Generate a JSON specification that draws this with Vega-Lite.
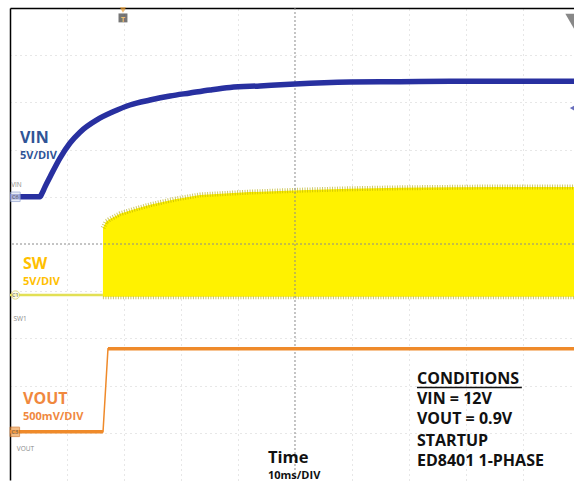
{
  "$schema": "https://vega.github.io/schema/vega-lite/v6.json",
  "width": 564,
  "height": 472,
  "autosize": {"type": "none"},
  "padding": {"left": 10, "top": 8, "right": 0, "bottom": 4},
  "background": "white",
  "config": {"view": {"stroke": null}, "font": "Open Sans"},
  "datasets": {
    "vin": [{"t":0,"d":6.0},{"t":5.26,"d":6.0},{"t":5.6,"d":6.07},{"t":6.14,"d":6.21},{"t":7.02,"d":6.42},{"t":8.77,"d":6.82},{"t":10.53,"d":7.14},{"t":12.28,"d":7.37},{"t":15.26,"d":7.63},{"t":18.07,"d":7.8},{"t":21.05,"d":7.945},{"t":24.56,"d":8.05},{"t":28.07,"d":8.136},{"t":31.58,"d":8.2},{"t":35.09,"d":8.263},{"t":38.6,"d":8.316},{"t":43.86,"d":8.35},{"t":50,"d":8.39},{"t":59.65,"d":8.43},{"t":68.42,"d":8.44},{"t":77.19,"d":8.45},{"t":85.96,"d":8.45},{"t":98.95,"d":8.45}],
    "sw": [{"t":16.3,"d":3.88,"d2":3.88},{"t":16.32,"d":5.34,"d2":3.88},{"t":16.84,"d":5.47,"d2":3.88},{"t":17.54,"d":5.53,"d2":3.88},{"t":19.3,"d":5.64,"d2":3.88},{"t":21.93,"d":5.74,"d2":3.88},{"t":24.56,"d":5.83,"d2":3.88},{"t":28.95,"d":5.95,"d2":3.88},{"t":33.33,"d":6.04,"d2":3.88},{"t":42.11,"d":6.1,"d2":3.88},{"t":50.88,"d":6.14,"d2":3.88},{"t":59.65,"d":6.17,"d2":3.88},{"t":68.42,"d":6.19,"d2":3.88},{"t":77.19,"d":6.2,"d2":3.88},{"t":85.96,"d":6.21,"d2":3.88},{"t":98.95,"d":6.21,"d2":3.88}],
    "swpre": [{"t":0,"d":3.92},{"t":16.3,"d":3.92}],
    "swbot": [{"t":16.3,"d":3.86},{"t":98.95,"d":3.86}],
    "vout": [{"t":0,"d":1.02,"seg":"a"},{"t":16.32,"d":1.02,"seg":"a"},{"t":17.19,"d":2.78,"seg":"b"},{"t":98.95,"d":2.78,"seg":"b"}],
    "labels": [{"ch":"VIN","t":1.75,"d":7.14,"big":"VIN","small":"5V/DIV","d2":6.81},{"ch":"SW","t":2.28,"d":4.47,"big":"SW","small":"5V/DIV","d2":4.13},{"ch":"VOUT","t":2.28,"d":1.61,"big":"VOUT","small":"500mV/DIV","d2":1.27}],
    "cond": [{"t":71.4,"d":2.03,"txt":"CONDITIONS"},{"t":71.4,"d":1.61,"txt":"VIN = 12V"},{"t":71.4,"d":1.19,"txt":"VOUT = 0.9V"},{"t":71.4,"d":0.73,"txt":"STARTUP"},{"t":71.4,"d":0.3,"txt":"ED8401 1-PHASE"}]
  },
  "layer": [
    {
      "data": {"name": "sw"},
      "mark": {"type": "area", "color": "#fff200", "interpolate": "linear"},
      "encoding": {
        "x": {"field": "t", "type": "quantitative", "scale": {"domain": [0, 98.95], "nice": false, "zero": false},
              "axis": {"orient": "top", "values": [10,20,30,40,60,70,80,90], "labels": false, "ticks": false, "title": null, "domainColor": "#000", "domainWidth": 1.5, "gridColor": "#c4c4c4", "gridDash": [1,4], "gridWidth": 1, "gridOpacity": 0.8}},
        "y": {"field": "d", "type": "quantitative", "scale": {"domain": [0, 10], "nice": false, "zero": false},
              "axis": {"orient": "left", "values": [1,2,3,4,6,7,8,9], "labels": false, "ticks": false, "title": null, "domainColor": "#000", "domainWidth": 1.5, "gridColor": "#c4c4c4", "gridDash": [1,4], "gridWidth": 1, "gridOpacity": 0.8}},
        "y2": {"field": "d2"}
      }
    },
    {
      "data": {"name": "sw"},
      "transform": [{"filter": "datum.t > 16.31"}],
      "mark": {"type": "line", "color": "#b3a800", "strokeWidth": 5, "opacity": 0.6, "strokeDash": [1, 1.5]},
      "encoding": {"x": {"field": "t", "type": "quantitative"}, "y": {"field": "d", "type": "quantitative"}}
    },
    {
      "data": {"name": "swbot"},
      "mark": {"type": "line", "color": "#aaa020", "strokeWidth": 3, "opacity": 0.6, "strokeDash": [1, 1.5]},
      "encoding": {"x": {"field": "t", "type": "quantitative"}, "y": {"field": "d", "type": "quantitative"}}
    },
    {
      "data": {"name": "swpre"},
      "mark": {"type": "line", "color": "#e2e055", "strokeWidth": 2.5},
      "encoding": {"x": {"field": "t", "type": "quantitative"}, "y": {"field": "d", "type": "quantitative"}}
    },
    {
      "data": {"values": [{"t": 50}]},
      "mark": {"type": "rule", "color": "#8a8a8a", "strokeDash": [2, 2], "strokeWidth": 1},
      "encoding": {"x": {"field": "t", "type": "quantitative"}}
    },
    {
      "data": {"values": [{"d": 5}]},
      "mark": {"type": "rule", "color": "#8a8a8a", "strokeDash": [2, 2], "strokeWidth": 1},
      "encoding": {"y": {"field": "d", "type": "quantitative"}}
    },
    {
      "data": {"name": "vin"},
      "mark": {"type": "line", "color": "#2830a0", "strokeWidth": 5.5, "interpolate": "monotone"},
      "encoding": {"x": {"field": "t", "type": "quantitative"}, "y": {"field": "d", "type": "quantitative"}}
    },
    {
      "data": {"name": "vout"},
      "mark": {"type": "line", "color": "#ef8a2a", "strokeWidth": 1.5},
      "encoding": {"x": {"field": "t", "type": "quantitative"}, "y": {"field": "d", "type": "quantitative"}}
    },
    {
      "data": {"name": "vout"},
      "mark": {"type": "line", "color": "#ef8a2a", "strokeWidth": 3.5},
      "encoding": {"x": {"field": "t", "type": "quantitative"}, "y": {"field": "d", "type": "quantitative"}, "detail": {"field": "seg"}}
    },
    {
      "data": {"name": "labels"},
      "mark": {"type": "text", "align": "left", "baseline": "alphabetic", "fontSize": 16, "fontWeight": "bold"},
      "encoding": {
        "x": {"field": "t", "type": "quantitative"}, "y": {"field": "d", "type": "quantitative"},
        "text": {"field": "big"},
        "color": {"field": "ch", "type": "nominal", "scale": {"domain": ["VIN","SW","VOUT"], "range": ["#2f5496","#ffc000","#f0883e"]}, "legend": null}
      }
    },
    {
      "data": {"name": "labels"},
      "mark": {"type": "text", "align": "left", "baseline": "alphabetic", "fontSize": 11, "fontWeight": "bold"},
      "encoding": {
        "x": {"field": "t", "type": "quantitative"}, "y": {"field": "d2", "type": "quantitative"},
        "text": {"field": "small"},
        "color": {"field": "ch", "type": "nominal", "legend": null}
      }
    },
    {
      "data": {"name": "cond"},
      "mark": {"type": "text", "align": "left", "baseline": "alphabetic", "fontSize": 16, "fontWeight": "bold", "color": "#111"},
      "encoding": {"x": {"field": "t", "type": "quantitative"}, "y": {"field": "d", "type": "quantitative"}, "text": {"field": "txt"}}
    },
    {
      "data": {"values": [{"t": 71.4, "t2": 89.8, "d": 1.96}]},
      "mark": {"type": "rule", "color": "#111", "strokeWidth": 1.5},
      "encoding": {"x": {"field": "t", "type": "quantitative"}, "x2": {"field": "t2"}, "y": {"field": "d", "type": "quantitative"}}
    },
    {
      "data": {"values": [{"t": 45.26, "d": 0.37, "txt": "Time"}]},
      "mark": {"type": "text", "align": "left", "baseline": "alphabetic", "fontSize": 16.5, "fontWeight": "bold", "color": "#111"},
      "encoding": {"x": {"field": "t", "type": "quantitative"}, "y": {"field": "d", "type": "quantitative"}, "text": {"field": "txt"}}
    },
    {
      "data": {"values": [{"t": 45.26, "d": 0.03, "txt": "10ms/DIV"}]},
      "mark": {"type": "text", "align": "left", "baseline": "alphabetic", "fontSize": 11, "fontWeight": "bold", "color": "#111"},
      "encoding": {"x": {"field": "t", "type": "quantitative"}, "y": {"field": "d", "type": "quantitative"}, "text": {"field": "txt"}}
    },
    {
      "data": {"values": [{"t": 19.82, "d": 9.96}]},
      "mark": {"type": "point", "shape": "triangle-down", "filled": true, "color": "#f0a030", "size": 40},
      "encoding": {"x": {"field": "t", "type": "quantitative"}, "y": {"field": "d", "type": "quantitative"}}
    },
    {
      "data": {"values": [{"t": 19.82, "d": 9.79}]},
      "mark": {"type": "point", "shape": "square", "filled": true, "color": "#3c3c3c", "size": 80},
      "encoding": {"x": {"field": "t", "type": "quantitative"}, "y": {"field": "d", "type": "quantitative"}}
    },
    {
      "data": {"values": [{"t": 19.82, "d": 9.75, "txt": "T"}]},
      "mark": {"type": "text", "fontSize": 7, "fontWeight": "bold", "color": "#f0c070", "baseline": "middle"},
      "encoding": {"x": {"field": "t", "type": "quantitative"}, "y": {"field": "d", "type": "quantitative"}, "text": {"field": "txt"}}
    },
    {
      "data": {"values": [{"t": 98.95, "d": 9.72}]},
      "mark": {"type": "point", "shape": "triangle-down", "filled": true, "color": "#555", "size": 300},
      "encoding": {"x": {"field": "t", "type": "quantitative"}, "y": {"field": "d", "type": "quantitative"}}
    },
    {
      "data": {"values": [{"t": 98.7, "d": 7.88}]},
      "mark": {"type": "point", "shape": "triangle-left", "filled": true, "color": "#2830a0", "size": 40},
      "encoding": {"x": {"field": "t", "type": "quantitative"}, "y": {"field": "d", "type": "quantitative"}}
    },
    {
      "data": {"values": [{"t": 0.95, "d": 6.0}]},
      "mark": {"type": "point", "shape": "square", "filled": true, "color": "#dfe6f5", "stroke": "#8fa0d0", "strokeWidth": 1, "size": 90},
      "encoding": {"x": {"field": "t", "type": "quantitative"}, "y": {"field": "d", "type": "quantitative"}}
    },
    {
      "data": {"values": [{"t": 0.95, "d": 3.92}]},
      "mark": {"type": "point", "shape": "circle", "filled": true, "color": "#fffbe0", "stroke": "#d8d060", "strokeWidth": 1, "size": 70},
      "encoding": {"x": {"field": "t", "type": "quantitative"}, "y": {"field": "d", "type": "quantitative"}}
    },
    {
      "data": {"values": [{"t": 0.85, "d": 1.02}]},
      "mark": {"type": "point", "shape": "square", "filled": true, "color": "#f0a050", "stroke": "#d07020", "strokeWidth": 1, "size": 90},
      "encoding": {"x": {"field": "t", "type": "quantitative"}, "y": {"field": "d", "type": "quantitative"}}
    },
    {
      "data": {"values": [{"t": 0.95, "d": 6.0, "txt": "C6"}, {"t": 0.95, "d": 3.92, "txt": "C1"}, {"t": 0.85, "d": 1.02, "txt": "C3"}]},
      "mark": {"type": "text", "fontSize": 5.5, "color": "#555", "baseline": "middle"},
      "encoding": {"x": {"field": "t", "type": "quantitative"}, "y": {"field": "d", "type": "quantitative"}, "text": {"field": "txt"}}
    },
    {
      "data": {"values": [{"t": 0.2, "d": 6.2, "txt": "VIN"}, {"t": 0.6, "d": 3.37, "txt": "SW1"}, {"t": 1.2, "d": 0.61, "txt": "VOUT"}]},
      "mark": {"type": "text", "fontSize": 6.5, "color": "#8a8a8a", "align": "left", "baseline": "alphabetic"},
      "encoding": {"x": {"field": "t", "type": "quantitative"}, "y": {"field": "d", "type": "quantitative"}, "text": {"field": "txt"}}
    }
  ]
}
